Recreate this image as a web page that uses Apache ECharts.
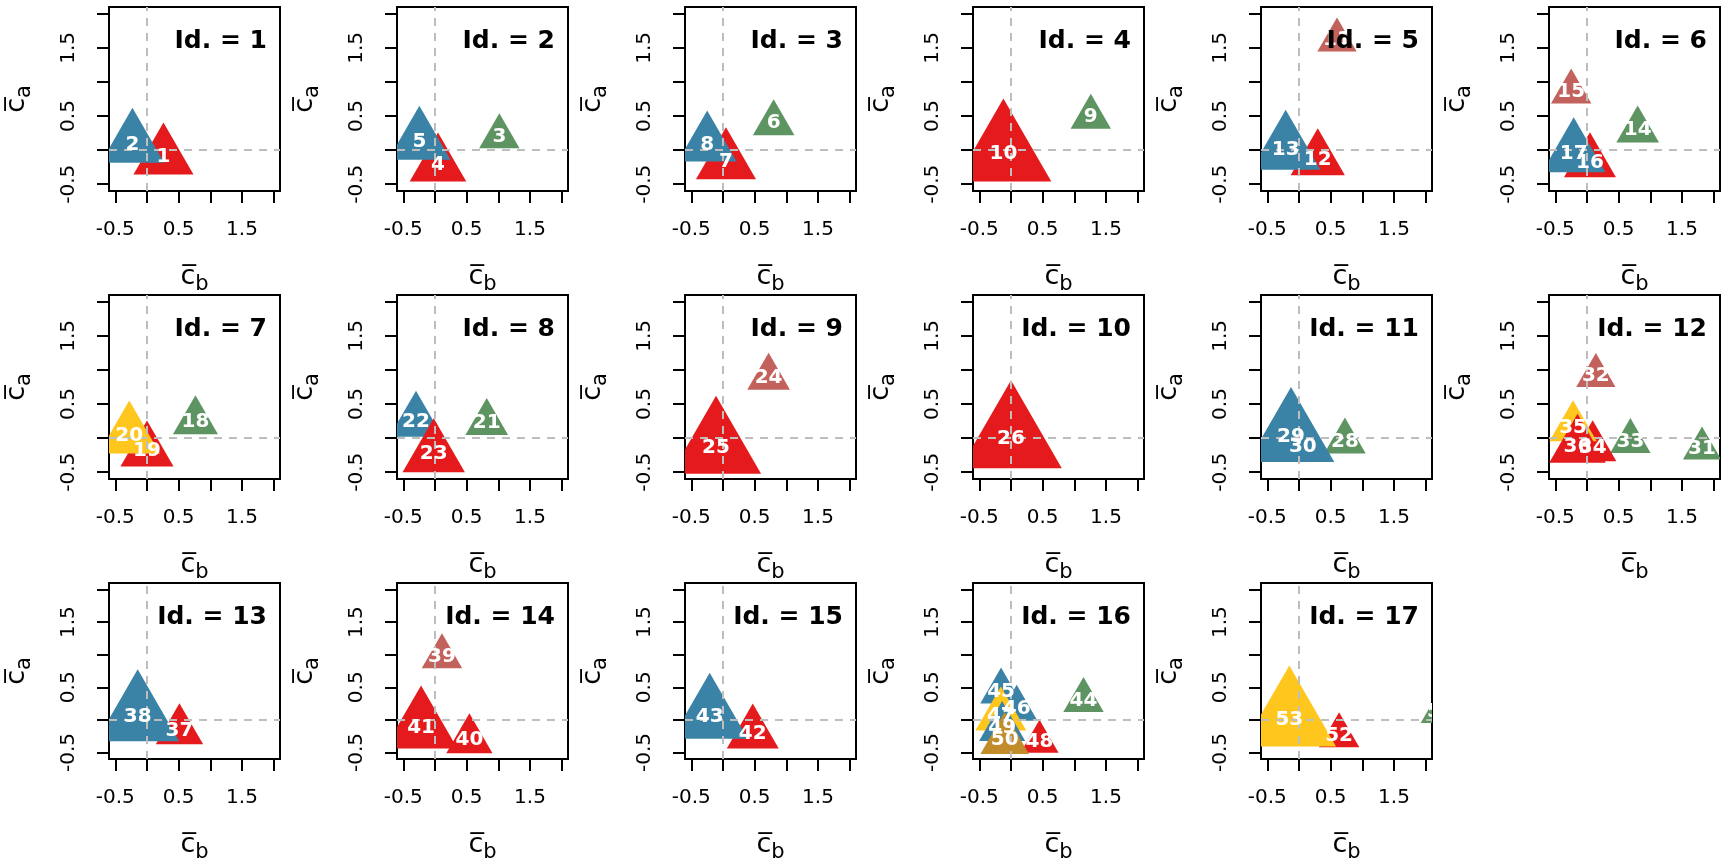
<!DOCTYPE html>
<html><head><meta charset="utf-8">
<script src="https://cdn.jsdelivr.net/npm/echarts@6/dist/echarts.min.js"></script>
<style>html,body{margin:0;padding:0;background:#fff}#c{width:1728px;height:864px}</style>
</head><body><div id="c"></div>
<script>
// ---- data ----
const pointIds    = [1,2, 3,4,5, 6,7,8, 9,10, 11,12,13, 14,15,16,17, 18,19,20, 21,22,23, 24,25, 26, 28,29,30, 31,32,33,34,35,36, 37,38, 39,40,41, 42,43, 44,45,46,47,48,49,50, 51,52,53];
const pointPanel  = [1,1, 2,2,2, 3,3,3, 4,4, 5,5,5, 6,6,6,6, 7,7,7, 8,8,8, 9,9, 10, 11,11,11, 12,12,12,12,12,12, 13,13, 14,14,14, 15,15, 16,16,16,16,16,16,16, 17,17,17];
const pointX      = [0.26,-0.23, 1.016,0.047,-0.247, 0.80,0.047,-0.25, 1.26,-0.12, 0.60,0.296,-0.21, 0.80,-0.25,0.047,-0.21, 0.765,0.0,-0.28, 0.817,-0.30,-0.02, 0.72,-0.11, 0.0, 0.725,-0.126,0.06, 1.816,0.14,0.685,0.09,-0.22,-0.15, 0.512,-0.147, 0.11,0.543,-0.22, 0.47,-0.21, 1.145,-0.157,0.09,-0.16,0.45,-0.14,-0.10, 2.24,0.633,-0.153];
const pointY      = [-0.105,0.083, 0.198,-0.22,0.122, 0.394,-0.173,0.081, 0.483,-0.056, 1.612,-0.138,0.004, 0.292,0.854,-0.179,-0.056, 0.246,-0.192,0.035, 0.227,0.246,-0.235, 0.889,-0.142, -0.01, -0.051,0.016,-0.133, -0.152,0.917,-0.047,-0.14,0.155,-0.121, -0.164,0.04, 0.97,-0.308,-0.115, -0.21,0.05, 0.30,0.437,0.17,0.063,-0.335,-0.12,-0.31, 0.13,-0.242,0.007];
const pointWeight = [5.2,5.5, 3.5,4.9,5.4, 3.6,5.2,5.1, 3.5,8.3, 3.4,4.7,6.0, 3.7,3.5,4.5,5.5, 3.9,4.6,5.3, 3.7,4.6,5.4, 3.7,7.8, 8.8, 3.6,7.5,4.0, 3.3,3.4,3.5,4.1,4.1,4.9, 4.1,7.2, 3.5,4.0,6.3, 4.5,6.6, 3.5,3.6,3.6,4.4,3.3,4.0,4.2, 3.5,3.5,8.1];
const pointGroup  = ['R','B', 'G','R','B', 'G','R','B', 'G','R', 'P','R','B', 'G','P','R','B', 'G','R','Y', 'G','B','R', 'P','R', 'R', 'G','B','B', 'G','P','G','R','Y','R', 'R','B', 'P','R','R', 'R','B', 'G','B','B','Y','R','B','O', 'G','R','Y'];
const panelIds    = [1,2,3,4,5,6,7,8,9,10,11,12,13,14,15,16,17];
const axisRange   = [-0.6, 2.1];
const tickValues  = [-0.5, 0, 0.5, 1, 1.5, 2];
const tickLabels  = [-0.5, 0.5, 1.5];
const refLineAt   = 0;

// ---- styles / layout ----
const groupColors = {R:'#E41A1C', B:'#3B83A6', G:'#5E9462', P:'#C3625C', Y:'#FFC61E', O:'#C28C2B'};
const FONT = 'DejaVu Sans';
const CELL = 288, BOX_L = 109, BOX_T = 7, BOX_W = 171, BOX_H = 184, COLS = 6;
const SIZE_SCALE = 10;

const grids = [], xAxes = [], yAxes = [], titles = [], series = [];
const xName = '{c|c\u0305}{s|b}';
const yName = '{c|c\u0305}{s|a}';
const nameRich = {
  c: {fontSize: 27, fontFamily: FONT, color: '#000', lineHeight: 36, verticalAlign: 'middle'},
  s: {fontSize: 21, fontFamily: FONT, color: '#000', lineHeight: 21, verticalAlign: 'bottom'}
};

function triangleItem(params, api) {
  const p = api.coord([api.value(0), api.value(1)]);
  const h = api.value(2) * SIZE_SCALE;
  const half = h / Math.sqrt(3);
  return {type: 'polygon',
    shape: {points: [[p[0], p[1] - 2 * h / 3], [p[0] + half, p[1] + h / 3], [p[0] - half, p[1] + h / 3]]},
    style: {fill: api.visual('color')}};
}
function labelItem(params, api) {
  const p = api.coord([api.value(0), api.value(1)]);
  return {type: 'text', x: p[0], y: p[1],
    style: {text: String(api.value(2)), fill: '#fff', font: 'bold 20px "' + FONT + '"',
      align: 'center', verticalAlign: 'middle'}};
}

panelIds.forEach((pid, i) => {
  const col = i % COLS, row = Math.floor(i / COLS);
  const left = CELL * col + BOX_L, top = CELL * row + BOX_T;
  grids.push({left: left, top: top, width: BOX_W, height: BOX_H, show: true,
    borderColor: '#000', borderWidth: 2, backgroundColor: 'transparent', containLabel: false});
  const common = {
    gridIndex: i, type: 'value', min: axisRange[0], max: axisRange[1],
    axisLine: {show: false, onZero: false}, splitLine: {show: false},
    axisTick: {show: true, customValues: tickValues, length: 12, lineStyle: {color: '#000', width: 2}},
    nameLocation: 'middle', nameTextStyle: {rich: nameRich}
  };
  xAxes.push(Object.assign({}, common, {
    axisLabel: {customValues: tickLabels, margin: 29, fontSize: 20, color: '#000', fontFamily: FONT},
    name: xName, nameGap: 68
  }));
  yAxes.push(Object.assign({}, common, {
    axisLabel: {customValues: tickLabels, margin: 30, fontSize: 20, color: '#000', fontFamily: FONT, rotate: 90},
    name: yName, nameGap: 74
  }));
  titles.push({text: 'Id. = ' + pid, right: 1728 - (CELL * col + 267), top: CELL * row + 29, padding: 0,
    textStyle: {fontSize: 25, fontWeight: 'bold', color: '#000', fontFamily: FONT, lineHeight: 25}});

  const tri = [], lab = [];
  pointIds.forEach((id, k) => {
    if (pointPanel[k] !== pid) return;
    tri.push({value: [pointX[k], pointY[k], pointWeight[k]], itemStyle: {color: groupColors[pointGroup[k]]}});
    lab.push({value: [pointX[k], pointY[k], id]});
  });
  series.push({
    type: 'custom', xAxisIndex: i, yAxisIndex: i, data: tri, z: 2, clip: true, silent: true,
    renderItem: triangleItem,
    markLine: {z: 4, silent: true, symbol: 'none', label: {show: false}, animation: false,
      lineStyle: {color: '#BEBEBE', width: 2, type: [8, 7]},
      data: [{xAxis: refLineAt}, {yAxis: refLineAt}]}
  });
  series.push({
    type: 'custom', xAxisIndex: i, yAxisIndex: i, data: lab, z: 5, clip: true, silent: true,
    renderItem: labelItem
  });
});

const chart = echarts.init(document.getElementById('c'));
chart.setOption({animation: false, backgroundColor: '#fff', title: titles, grid: grids, xAxis: xAxes, yAxis: yAxes, series: series});
</script></body></html>
